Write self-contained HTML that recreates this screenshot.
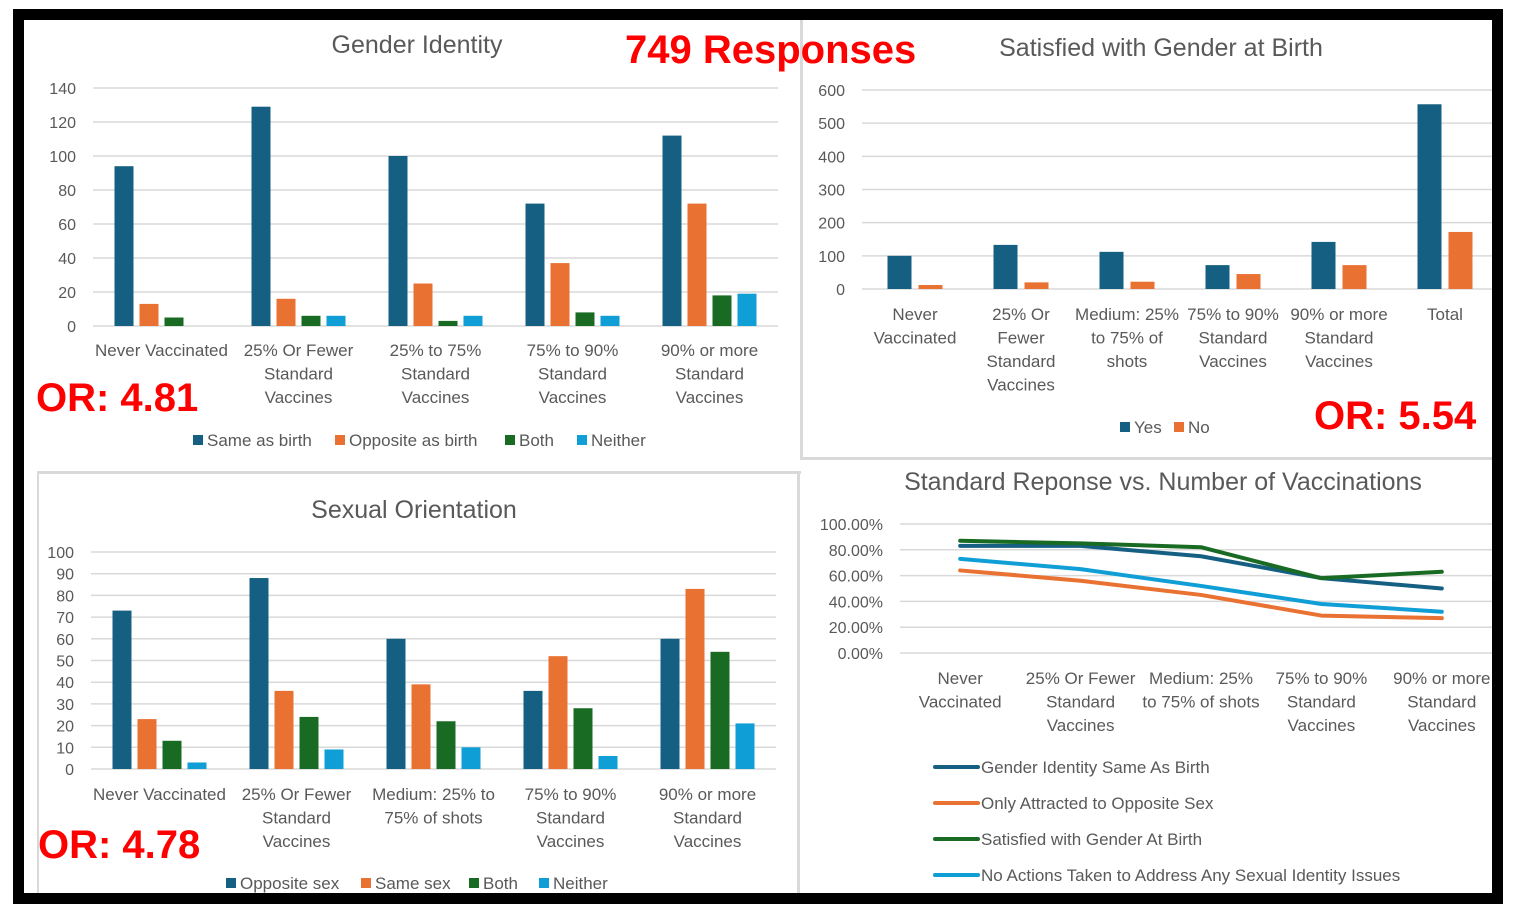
<!DOCTYPE html>
<html><head><meta charset="utf-8"><style>
html,body{margin:0;padding:0;background:#fff;}
svg{display:block;font-family:"Liberation Sans",sans-serif;}
</style></head><body>
<svg id="s" width="1518" height="920" viewBox="0 0 1518 920">
<rect x="0" y="0" width="1518" height="920" fill="#fff"/>
<rect x="13" y="9" width="1490" height="895" fill="#000"/>
<rect x="24" y="20" width="1468" height="873" fill="#fff"/>
<g id="sep" fill="#d9d9d9">
<rect x="800" y="20" width="3" height="440"/>
<rect x="802" y="457" width="690" height="3"/>
<rect x="37" y="471" width="764" height="3"/>
<rect x="797" y="471" width="3" height="422"/>
<rect x="37" y="471" width="2" height="422"/>
</g>
<g id="g1"></g><g id="g2"></g><g id="g3"></g><g id="g4"></g>
<text x="625" y="63" font-size="40" font-weight="bold" fill="#ff0000">749 Responses</text>
<text x="36" y="411" font-size="40" font-weight="bold" fill="#ff0000">OR: 4.81</text>
<text x="1314" y="429" font-size="40" font-weight="bold" fill="#ff0000">OR: 5.54</text>
<text x="38" y="858" font-size="40" font-weight="bold" fill="#ff0000">OR: 4.78</text>
</svg>
<script>
const C=["#156082","#E97132","#196B24","#0F9ED5"];
// Chart 1: Gender Identity
const giCats=[["Never Vaccinated"],["25% Or Fewer","Standard","Vaccines"],["25% to 75%","Standard","Vaccines"],["75% to 90%","Standard","Vaccines"],["90% or more","Standard","Vaccines"]];
const giSame=[94,129,100,72,112];
const giOpp=[13,16,25,37,72];
const giBoth=[5,6,3,8,18];
const giNeither=[0,6,6,6,19];
const giTicks=[0,20,40,60,80,100,120,140];
// Chart 2: Satisfied with gender at birth
const sgCats=[["Never","Vaccinated"],["25% Or","Fewer","Standard","Vaccines"],["Medium: 25%","to 75% of","shots"],["75% to 90%","Standard","Vaccines"],["90% or more","Standard","Vaccines"],["Total"]];
const sgYes=[100,133,112,72,142,557];
const sgNo=[12,20,22,45,72,172];
const sgTicks=[0,100,200,300,400,500,600];
// Chart 3: Sexual orientation
const soCats=[["Never Vaccinated"],["25% Or Fewer","Standard","Vaccines"],["Medium: 25% to","75% of shots"],["75% to 90%","Standard","Vaccines"],["90% or more","Standard","Vaccines"]];
const soOpp=[73,88,60,36,60];
const soSame=[23,36,39,52,83];
const soBoth=[13,24,22,28,54];
const soNeither=[3,9,10,6,21];
const soTicks=[0,10,20,30,40,50,60,70,80,90,100];
// Chart 4: line chart
const lnCats=[["Never","Vaccinated"],["25% Or Fewer","Standard","Vaccines"],["Medium: 25%","to 75% of shots"],["75% to 90%","Standard","Vaccines"],["90% or more","Standard","Vaccines"]];
const lnGender=[83,83,75,58,50];
const lnOpposite=[64,56,45,29,27];
const lnSatisfied=[87,85,82,58,63];
const lnNoActions=[73,65,52,38,32];
const lnTicks=[0,20,40,60,80,100];

const NS="http://www.w3.org/2000/svg";
function mk(p,t,a,txt){const e=document.createElementNS(NS,t);for(const k in a)e.setAttribute(k,a[k]);if(txt!==undefined)e.textContent=txt;p.appendChild(e);return e;}

function barChart(g,o){
  const y=v=>o.y0-(v-o.min)/(o.max-o.min)*(o.y0-o.y1);
  const t=mk(g,'text',{x:o.tx,y:o.ty,'font-size':o.tfs||25,fill:'#595959','text-anchor':'middle'},o.title);
  
  
  const gx1=o.gx1||o.x1;
  o.ticks.forEach(v=>{
    mk(g,'line',{x1:o.x0,x2:gx1,y1:y(v),y2:y(v),stroke:'#d9d9d9','stroke-width':1.5});
    const l=mk(g,'text',{x:o.lx,y:y(v)+6,'font-size':16,fill:'#595959','text-anchor':'end'},v);
    
    
  });
  const n=o.cats.length,band=(o.x1-o.x0)/n,ns=o.series.length,tot=ns*o.bw+(ns-1)*o.gap;
  for(let i=0;i<n;i++){
    const cx=o.x0+band*(i+0.5);
    o.series.forEach((s,j)=>{
      const v=s[i];const bx=cx-tot/2+j*(o.bw+o.gap);
      const r=mk(g,'rect',{x:bx,y:y(v),width:o.bw,height:y(0)-y(v),fill:C[j]});
      
      
    });
    o.cats[i].forEach((line,k)=>{
      const l=mk(g,'text',{x:cx,y:o.cy+k*23.5,'font-size':17,fill:'#595959','text-anchor':'middle'},line);
      
      
    });
  }
  o.legend.forEach((lg,j)=>{
    const r=mk(g,'rect',{x:lg[0],y:o.legY-11,width:10,height:10,fill:C[j]});
    
    
    const l=mk(g,'text',{x:lg[0]+14,y:o.legY,'font-size':17,fill:'#595959'},o.names[j]);
    
    
  });
}
barChart(document.getElementById('g1'),{title:'Gender Identity',tx:417,ty:53,x0:93,x1:778,y0:326,y1:88,min:0,max:140,ticks:giTicks,lx:76,cats:giCats,cy:356,
  series:[giSame,giOpp,giBoth,giNeither],names:['Same as birth','Opposite as birth','Both','Neither'],bw:19,gap:6,legY:446,legend:[[193],[335],[505],[577]]});
barChart(document.getElementById('g2'),{title:'Satisfied with Gender at Birth',tx:1161,ty:56,x0:862,x1:1498,gx1:1492,y0:289,y1:90,min:0,max:600,ticks:sgTicks,lx:845,cats:sgCats,cy:320,
  series:[sgYes,sgNo],names:['Yes','No'],bw:24,gap:7,legY:433,legend:[[1120],[1174]]});
barChart(document.getElementById('g3'),{title:'Sexual Orientation',tx:414,ty:518,x0:91,x1:776,y0:769,y1:552,min:0,max:100,ticks:soTicks,lx:74,cats:soCats,cy:800,
  series:[soOpp,soSame,soBoth,soNeither],names:['Opposite sex','Same sex','Both','Neither'],bw:19,gap:6,legY:889,legend:[[226],[361],[469],[539]]});

// line chart
(function(){
  const g=document.getElementById('g4');
  const x0=900,band=120.4,y0=653,y1=524;
  const x=i=>x0+band*(i+0.5);
  const y=v=>y0-v/100*(y0-y1);
  const t=mk(g,'text',{x:1163,y:490,'font-size':25,fill:'#595959','text-anchor':'middle'},'Standard Reponse vs. Number of Vaccinations');
  
  
  lnTicks.forEach(v=>{
    mk(g,'line',{x1:x0,x2:1492,y1:y(v),y2:y(v),stroke:'#d9d9d9','stroke-width':1.5});
    const l=mk(g,'text',{x:883,y:y(v)+6,'font-size':16,fill:'#595959','text-anchor':'end'},v.toFixed(2)+'%');
    
    
  });
  lnCats.forEach((c,i)=>c.forEach((line,k)=>{
    const l=mk(g,'text',{x:x(i),y:684+k*23.5,'font-size':17,fill:'#595959','text-anchor':'middle'},line);
    
    
  }));
  const series=[[lnGender,C[0],'Gender Identity Same As Birth'],[lnOpposite,C[1],'Only Attracted to Opposite Sex'],[lnSatisfied,C[2],'Satisfied with Gender At Birth'],[lnNoActions,C[3],'No Actions Taken to Address Any Sexual Identity Issues']];
  [1,3,0,2].forEach(j=>{
    const s=series[j];
    const p=mk(g,'polyline',{points:s[0].map((v,i)=>x(i)+','+y(v)).join(' '),fill:'none',stroke:s[1],'stroke-width':4,'stroke-linejoin':'round','stroke-linecap':'round'});
    
    
  });
  series.forEach((s,j)=>{
    const ly=767+j*36;
    const sw=mk(g,'line',{x1:935,x2:978,y1:ly,y2:ly,stroke:s[1],'stroke-width':4,'stroke-linecap':'round'});
    
    
    const l=mk(g,'text',{x:981,y:ly+6,'font-size':17,fill:'#595959'},s[2]);
    
    
  });
})();
</script>
</body></html>
